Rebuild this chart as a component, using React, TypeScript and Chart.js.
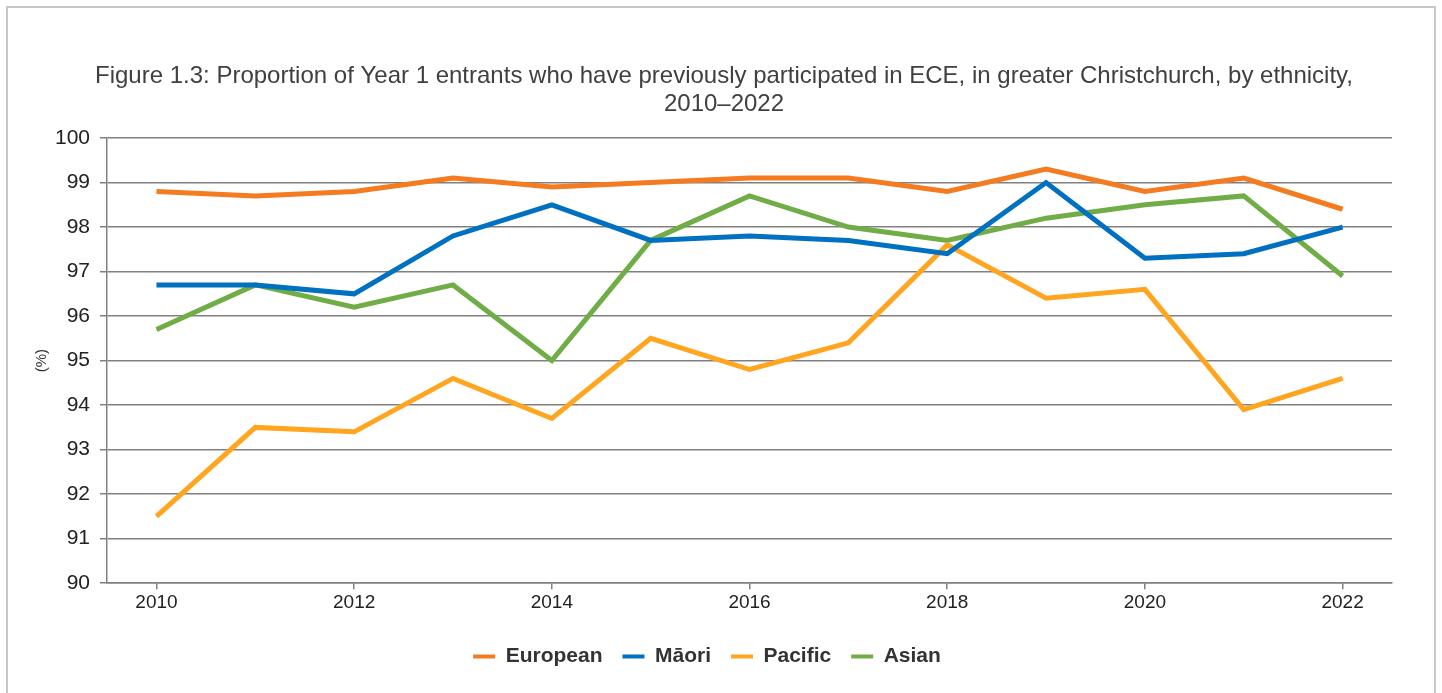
import React, { useEffect, useRef } from "react";
import { Chart, registerables } from "chart.js";

Chart.register(...registerables);

const years = ["2010", "2011", "2012", "2013", "2014", "2015", "2016", "2017", "2018", "2019", "2020", "2021", "2022"];
const european = [98.8, 98.7, 98.8, 99.1, 98.9, 99.0, 99.1, 99.1, 98.8, 99.3, 98.8, 99.1, 98.4];
const maori = [96.7, 96.7, 96.5, 97.8, 98.5, 97.7, 97.8, 97.7, 97.4, 99.0, 97.3, 97.4, 98.0];
const pacific = [91.5, 93.5, 93.4, 94.6, 93.7, 95.5, 94.8, 95.4, 97.6, 96.4, 96.6, 93.9, 94.6];
const asian = [95.7, 96.7, 96.2, 96.7, 95.0, 97.7, 98.7, 98.0, 97.7, 98.2, 98.5, 98.7, 96.9];

const titleLines = [
  "Figure 1.3: Proportion of Year 1 entrants who have previously participated in ECE, in greater Christchurch, by ethnicity,",
  "2010\u20132022",
];

const FONT = "'Liberation Sans', Arial, sans-serif";

const shiftTitle = {
  id: "shiftTitle",
  afterLayout(chart: any) {
    const t = chart.titleBlock;
    if (t) {
      t.left += 17;
      t.right += 17;
    }
  },
};

export default function App() {
  const ref = useRef<HTMLCanvasElement | null>(null);

  useEffect(() => {
    if (!ref.current) return;
    const grid = "#808080";
    const chart = new Chart(ref.current, {
      type: "line",
      data: {
        labels: years,
        datasets: [
          { label: "European", data: european, borderColor: "#F47B20", backgroundColor: "#F47B20" },
          { label: "M\u0101ori", data: maori, borderColor: "#0070C0", backgroundColor: "#0070C0" },
          { label: "Pacific", data: pacific, borderColor: "#FFA51F", backgroundColor: "#FFA51F" },
          { label: "Asian", data: asian, borderColor: "#70AD47", backgroundColor: "#70AD47" },
        ],
      },
      plugins: [shiftTitle],
      options: {
        animation: false,
        responsive: false,
        devicePixelRatio: 1,
        layout: { padding: { top: 62, left: 22, right: 50, bottom: 16 } },
        elements: {
          point: { radius: 0, hoverRadius: 0 },
          line: { borderWidth: 5, tension: 0, borderCapStyle: "butt", borderJoinStyle: "miter" },
        },
        plugins: {
          tooltip: { enabled: false },
          title: {
            display: true,
            text: titleLines,
            color: "#404040",
            font: { family: FONT, size: 24, weight: "normal", lineHeight: 1.167 },
            padding: { top: 0, bottom: 20 },
          },
          legend: {
            position: "bottom",
            labels: {
              boxWidth: 22,
              boxHeight: 4,
              padding: 20,
              color: "#333",
              font: { family: FONT, size: 21, weight: "bold" },
              generateLabels: (c: any) =>
                c.data.datasets.map((ds: any, i: number) => ({
                  text: ds.label,
                  fillStyle: ds.borderColor,
                  strokeStyle: ds.borderColor,
                  lineWidth: 0,
                  hidden: false,
                  datasetIndex: i,
                  fontColor: "#333",
                })),
            },
          },
        },
        scales: {
          x: {
            offset: true,
            afterFit: (s: any) => {
              s.height += 10;
            },
            grid: {
              offset: false,
              drawOnChartArea: false,
              drawTicks: true,
              tickLength: 6,
              lineWidth: 1.5,
              color: (ctx: any) => (ctx.index % 2 === 0 ? grid : "rgba(0,0,0,0)"),
            },
            border: { display: true, color: grid, width: 1.5 },
            ticks: {
              autoSkip: false,
              maxRotation: 0,
              color: "#222",
              padding: 2,
              font: { family: FONT, size: 19 },
              callback: (_v: any, i: number) => (i % 2 === 0 ? years[i] : ""),
            },
          },
          y: {
            min: 90,
            max: 100,
            ticks: { stepSize: 1, color: "#222", padding: 10, font: { family: FONT, size: 21 } },
            grid: { color: grid, lineWidth: 1.5, tickLength: 7 },
            border: { display: true, color: grid, width: 1.5 },
            title: {
              display: true,
              text: "(%)",
              color: "#333",
              font: { family: FONT, size: 15 },
              padding: { top: 11, bottom: -6 },
            },
          },
        },
      },
    });
    return () => chart.destroy();
  }, []);

  return (
    <div>
      <div
        style={{
          position: "fixed",
          left: 6,
          top: 6,
          width: 1430,
          height: 720,
          border: "2px solid #c8c8c8",
          boxSizing: "border-box",
        }}
      />
      <canvas
        ref={ref}
        width={1442}
        height={693}
        style={{ position: "fixed", left: 0, top: 0, width: 1442, height: 693 }}
      />
    </div>
  );
}
